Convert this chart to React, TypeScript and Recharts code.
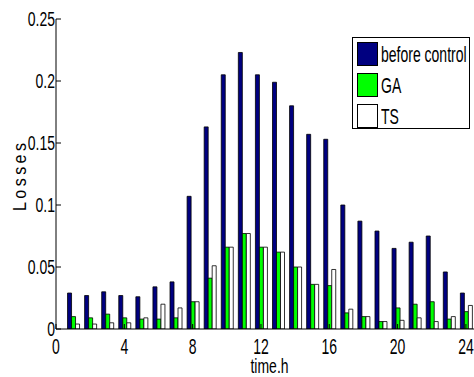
import React from 'react';
import { BarChart, Bar, XAxis, YAxis, Legend } from 'recharts';

const hours = [1, 2, 3, 4, 5, 6, 7, 8, 9, 10, 11, 12, 13, 14, 15, 16, 17, 18, 19, 20, 21, 22, 23, 24];
const beforeControl = [0.029, 0.027, 0.030, 0.027, 0.026, 0.034, 0.038, 0.107, 0.163, 0.205, 0.223, 0.205, 0.199, 0.180, 0.157, 0.153, 0.100, 0.087, 0.079, 0.065, 0.070, 0.075, 0.046, 0.029];
const gaLosses = [0.010, 0.009, 0.012, 0.009, 0.008, 0.008, 0.009, 0.022, 0.041, 0.066, 0.077, 0.066, 0.062, 0.050, 0.036, 0.035, 0.013, 0.010, 0.006, 0.017, 0.020, 0.022, 0.008, 0.014];
const tsLosses = [0.004, 0.004, 0.005, 0.005, 0.009, 0.020, 0.017, 0.022, 0.051, 0.066, 0.077, 0.066, 0.062, 0.050, 0.036, 0.048, 0.016, 0.010, 0.006, 0.007, 0.009, 0.006, 0.010, 0.019];
const xTicks = [0, 4, 8, 12, 16, 20, 24];
const yTicks = [0, 0.05, 0.1, 0.15, 0.2, 0.25];

const seriesInfo = [
  { key: 'before', name: 'before control', color: '#000080' },
  { key: 'ga', name: 'GA', color: '#00ff00' },
  { key: 'ts', name: 'TS', color: '#ffffff' },
];

const data = hours.map((h, i) => ({
  hour: h,
  before: beforeControl[i],
  ga: gaLosses[i],
  ts: tsLosses[i],
}));

const FONT = '"Liberation Sans", Arial, Helvetica, sans-serif';

// MATLAB style: ticks point inward, labels are tall and narrow
const BottomTick = (props: any) => {
  const { x, y, payload } = props;
  return (
    <g>
      <line x1={x} y1={y} x2={x} y2={y - 5} stroke="#000" strokeWidth={1} />
      <text
        transform={`translate(${x},${y + 25}) scale(1,1.6)`}
        textAnchor="middle"
        fontFamily={FONT}
        fontSize={14}
        fill="#000"
      >
        {payload.value}
      </text>
    </g>
  );
};

const TopTick = (props: any) => {
  const { x, y } = props;
  return <line x1={x} y1={y} x2={x} y2={y + 5} stroke="#000" strokeWidth={1} />;
};

const LeftTick = (props: any) => {
  const { x, y, payload } = props;
  return (
    <g>
      <line x1={x} y1={y} x2={x + 5} y2={y} stroke="#000" strokeWidth={1} />
      <text
        transform={`translate(${x - 1},${y + 7}) scale(1,1.45)`}
        textAnchor="end"
        fontFamily={FONT}
        fontSize={14}
        fill="#000"
      >
        {String(payload.value)}
      </text>
    </g>
  );
};

const renderLegend = () => (
  <div
    style={{
      width: 118,
      height: 92,
      boxSizing: 'border-box',
      border: '1px solid #000',
      background: '#fff',
      position: 'relative',
      fontFamily: FONT,
      fontSize: 14,
    }}
  >
    {seriesInfo.map((s, i) => (
      <div key={s.key} style={{ position: 'absolute', left: 4, top: 4 + i * 31, height: 24, display: 'flex', alignItems: 'center' }}>
        <div style={{ width: 21, height: 24, boxSizing: 'border-box', background: s.color, border: '1px solid #000' }} />
        <span style={{ display: 'inline-block', marginLeft: 3, transform: 'scaleY(1.6)', lineHeight: '14px', whiteSpace: 'nowrap' }}>
          {s.name}
        </span>
      </div>
    ))}
  </div>
);

export default function App() {
  return (
    <div style={{ position: 'absolute', left: 8, top: 8, width: 466, height: 369, overflow: 'hidden', background: '#fff' }}>
      <BarChart
        width={481}
        height={369}
        data={data}
        margin={{ top: 11, right: 6, left: 0, bottom: 0 }}
        barGap={0}
        barSize={4}
      >
        <XAxis
          dataKey="hour"
          type="number"
          domain={[0, 25]}
          ticks={xTicks}
          allowDataOverflow
          height={48}
          tickSize={0}
          tickMargin={0}
          tickLine={false}
          tick={<BottomTick />}
          axisLine={{ stroke: '#000' }}
          label={{
            content: (p: any) => {
              const vb = p.viewBox || { x: 48, y: 321, width: 427 };
              return (
                <text
                  transform={`translate(${vb.x + vb.width / 2},${365}) scale(1,1.4)`}
                  textAnchor="middle"
                  fontFamily={FONT}
                  fontSize={14}
                  fill="#000"
                >
                  time.h
                </text>
              );
            },
          }}
        />
        <XAxis
          xAxisId="top"
          orientation="top"
          dataKey="hour"
          type="number"
          domain={[0, 25]}
          ticks={xTicks}
          allowDataOverflow
          height={0}
          tickSize={0}
          tickMargin={0}
          tickLine={false}
          tick={<TopTick />}
          axisLine={{ stroke: '#000' }}
        />
        <YAxis
          type="number"
          domain={[0, 0.25]}
          ticks={yTicks}
          allowDataOverflow
          width={48}
          tickSize={0}
          tickMargin={0}
          tickLine={false}
          tick={<LeftTick />}
          axisLine={{ stroke: '#000' }}
          label={{
            content: () => (
              <text
                transform="translate(18,169) rotate(-90) scale(0.85,1)"
                textAnchor="middle"
                fontFamily={FONT}
                fontSize={19}
                textLength={80}
                lengthAdjust="spacing"
                fill="#000"
              >
                Losses
              </text>
            ),
          }}
        />
        <Legend
          layout="vertical"
          align="center"
          verticalAlign="middle"
          content={renderLegend}
          wrapperStyle={{ left: 344, top: 29, width: 118, height: 92 }}
        />
        {seriesInfo.map((s) => (
          <Bar
            key={s.key}
            dataKey={s.key}
            name={s.name}
            fill={s.color}
            stroke="#000"
            strokeWidth={0.8}
            isAnimationActive={false}
          />
        ))}
      </BarChart>
    </div>
  );
}
